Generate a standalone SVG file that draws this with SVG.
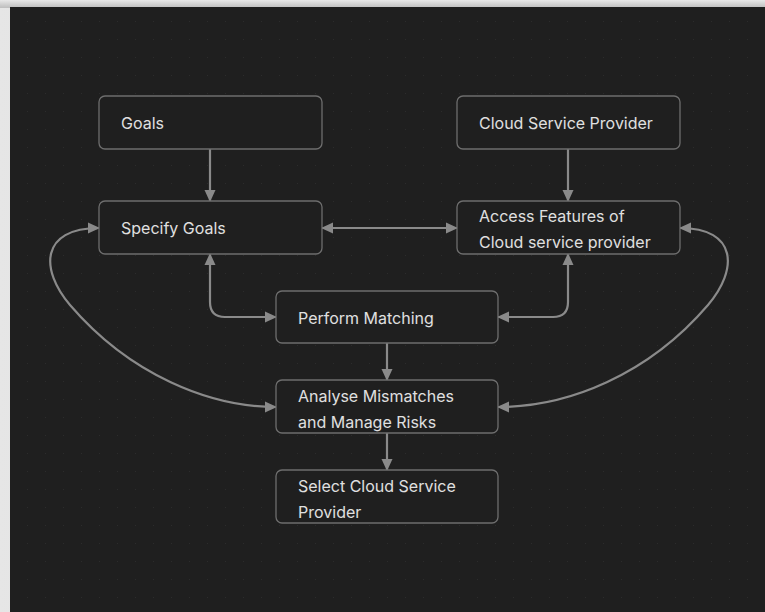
<svg xmlns="http://www.w3.org/2000/svg" width="765" height="612" viewBox="0 0 765 612">
  <defs>
    <pattern id="dots" x="9" y="3" width="18" height="18" patternUnits="userSpaceOnUse">
      <circle cx="0" cy="0" r="1" fill="#2f2f2f"/>
    </pattern>
    <linearGradient id="topg" x1="0" y1="0" x2="0" y2="1">
      <stop offset="0" stop-color="#e8e8e8"/>
      <stop offset="1" stop-color="#bdbdbd"/>
    </linearGradient>
    <linearGradient id="leftg" x1="0" y1="0" x2="1" y2="0">
      <stop offset="0" stop-color="#e6e6e6"/>
      <stop offset="1" stop-color="#c4c4c4"/>
    </linearGradient>
    <marker id="arr" viewBox="0 0 12 12" refX="11" refY="6" markerWidth="12" markerHeight="12" markerUnits="userSpaceOnUse" orient="auto-start-reverse">
      <path d="M0,0.5 L12,6 L0,11.5 Z" fill="#8a8a8a"/>
    </marker>
    <style>
      .node rect { fill: #1f1f1f; stroke: #6e6e6e; stroke-width: 1.3; }
      .node text { font-family: Inter, "Noto Sans", "Liberation Sans", sans-serif; font-size: 16px; fill: #e0e0e0; }
      .conn path { fill: none; stroke: #8a8a8a; stroke-width: 2.2; }
    </style>
  </defs>

  <rect x="0" y="0" width="765" height="612" fill="url(#leftg)"/>
  <rect x="0" y="0" width="765" height="8" fill="url(#topg)"/>
  <rect x="10" y="7" width="755" height="605" fill="#1f1f1f"/>
  <rect x="10" y="7" width="755" height="605" fill="url(#dots)"/>

  <g id="connectors" class="conn">
    <path d="M210,149 L210,201" marker-end="url(#arr)"/>
    <path d="M568,149 L568,201" marker-end="url(#arr)"/>
    <path d="M322,228 L457,228" marker-start="url(#arr)" marker-end="url(#arr)"/>
    <path d="M210,254 L210,302 Q210,317 225,317 L276,317" marker-start="url(#arr)" marker-end="url(#arr)"/>
    <path d="M568,254 L568,302 Q568,317 553,317 L498,317" marker-start="url(#arr)" marker-end="url(#arr)"/>
    <path d="M387,343 L387,380" marker-end="url(#arr)"/>
    <path d="M387,433 L387,470" marker-end="url(#arr)"/>
    <path d="M99,228 C40,228 40,270 70,305 C130,375 210,407 276,407" marker-start="url(#arr)" marker-end="url(#arr)"/>
    <path d="M680,228 C738,228 738,270 708,305 C648,375 568,407 498,407" marker-start="url(#arr)" marker-end="url(#arr)"/>
  </g>

  <g id="goals" class="node">
    <rect x="99" y="96" width="223" height="53" rx="6"/>
    <text x="121" y="129">Goals</text>
  </g>
  <g id="csp" class="node">
    <rect x="457" y="96" width="223" height="53" rx="6"/>
    <text x="479" y="129">Cloud Service Provider</text>
  </g>
  <g id="specify-goals" class="node">
    <rect x="99" y="201" width="223" height="53" rx="6"/>
    <text x="121" y="234">Specify Goals</text>
  </g>
  <g id="access-features" class="node">
    <rect x="457" y="201" width="223" height="53" rx="6"/>
    <text x="479" y="222">Access Features of</text>
    <text x="479" y="248">Cloud service provider</text>
  </g>
  <g id="perform-matching" class="node">
    <rect x="276" y="291" width="222" height="52" rx="6"/>
    <text x="298" y="324">Perform Matching</text>
  </g>
  <g id="analyse" class="node">
    <rect x="276" y="380" width="222" height="53" rx="6"/>
    <text x="298" y="402">Analyse Mismatches</text>
    <text x="298" y="428">and Manage Risks</text>
  </g>
  <g id="select" class="node">
    <rect x="276" y="470" width="222" height="53" rx="6"/>
    <text x="298" y="492">Select Cloud Service</text>
    <text x="298" y="518">Provider</text>
  </g>
</svg>
